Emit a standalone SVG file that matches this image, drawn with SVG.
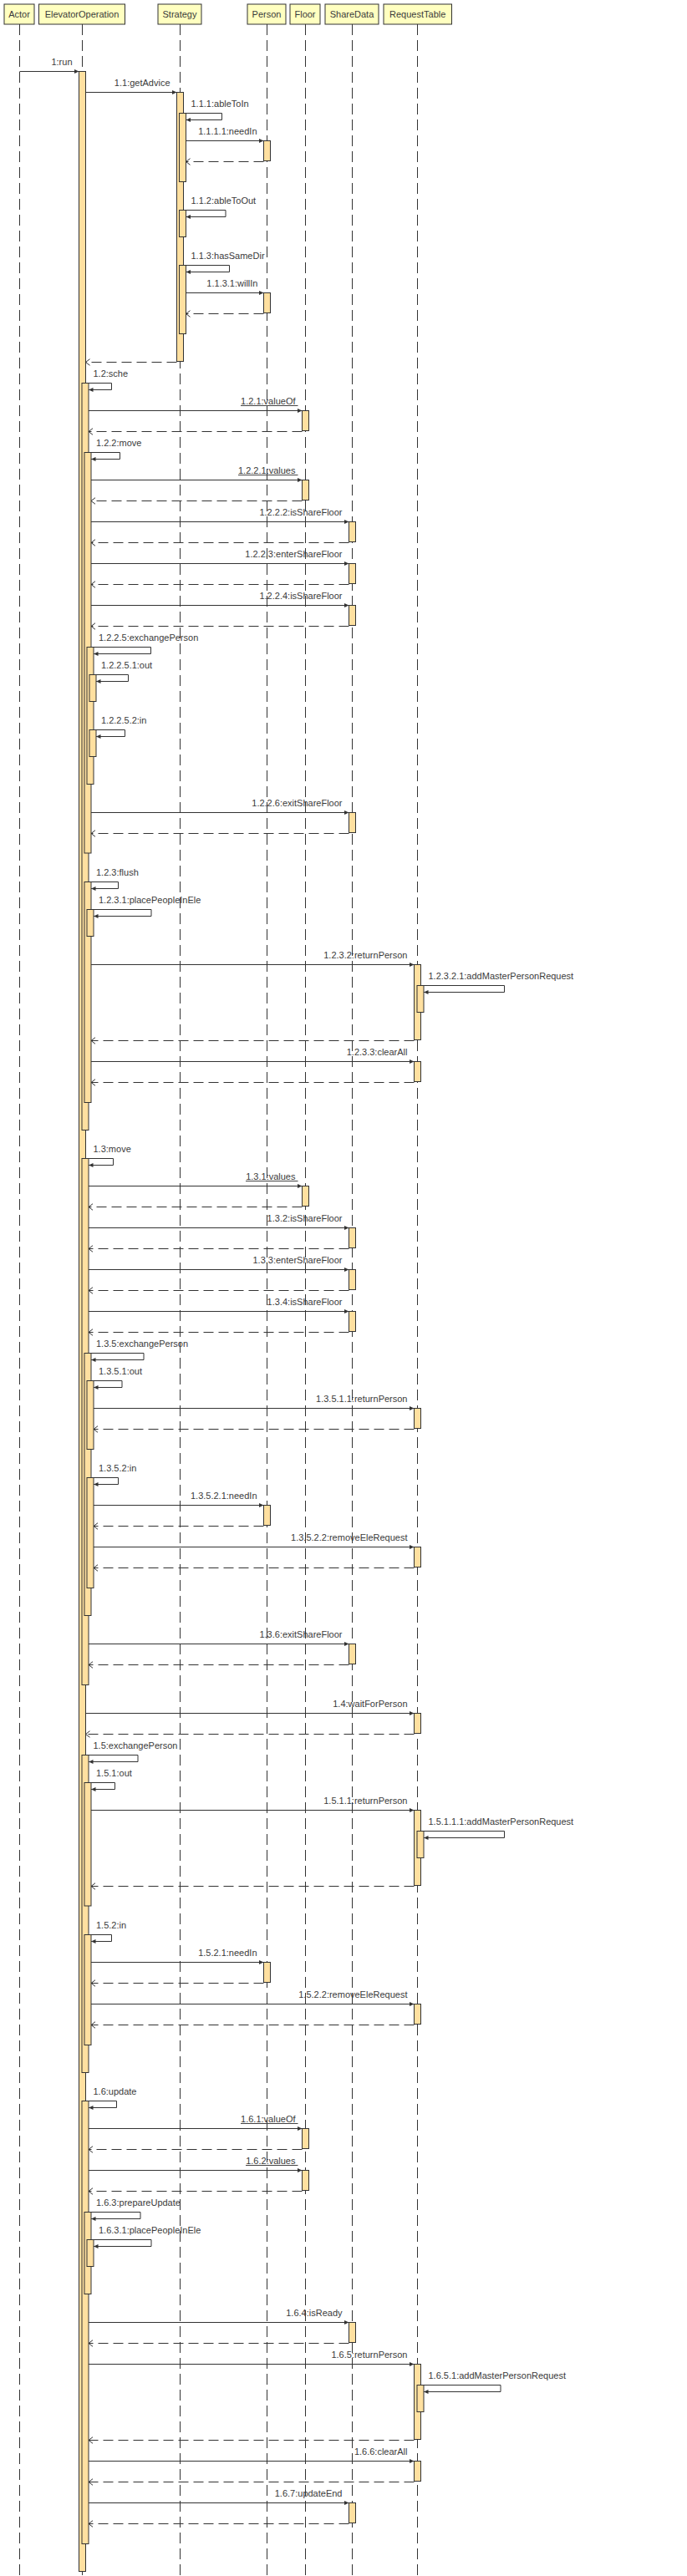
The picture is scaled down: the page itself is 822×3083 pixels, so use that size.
<svg xmlns="http://www.w3.org/2000/svg" width="822" height="3083" viewBox="0 0 822 3083">
<style>
.hdr{fill:#FFFFC0;stroke:#333;stroke-width:1}
.life{stroke:#333;stroke-width:1;stroke-dasharray:13 6;fill:none}
.act{fill:#FFE0A0;stroke:#333;stroke-width:1}
.m{stroke:#333;stroke-width:1;fill:none;marker-end:url(#ah)}
.r{stroke:#333;stroke-width:1;fill:none;stroke-dasharray:12 6;marker-end:url(#oh)}
.ul{stroke:#444;stroke-width:1}
text{font-family:"Liberation Sans",Arial,sans-serif;font-size:11px;fill:#3a3a3a}
.c{text-anchor:middle}
.e{text-anchor:end}
</style>
<defs>
<marker id="ah" markerUnits="userSpaceOnUse" markerWidth="6" markerHeight="6" viewBox="0 0 6 6" refX="5.5" refY="3" orient="auto"><path d="M0,0.5 L5.5,3 L0,5.5 Z" fill="#333" stroke="none"/></marker>
<marker id="oh" markerUnits="userSpaceOnUse" markerWidth="8" markerHeight="10" viewBox="0 0 8 10" refX="5.5" refY="5" orient="auto"><path d="M0.5,1.2 L5.5,5 L0.5,8.8" fill="none" stroke="#333" stroke-width="1" stroke-dasharray="none"/></marker>
</defs>
<rect width="822" height="3083" fill="#fff"/>

<g id="Actor">
<line class="life" x1="23.5" y1="29" x2="23.5" y2="3083"/>
<rect class="hdr" x="5" y="5" width="36" height="24"/>
<text class="c" x="23" y="21">Actor</text>
</g>

<g id="ElevatorOperation">
<line class="life" x1="98.5" y1="29" x2="98.5" y2="3083"/>
<rect class="hdr" x="46.5" y="5" width="103" height="24"/>
<text class="c" x="98" y="21">ElevatorOperation</text>
<rect class="act" x="94.5" y="85.5" width="8" height="2992"/>
<rect class="act" x="98" y="458.5" width="8" height="894"/>
<rect class="act" x="98" y="1386.5" width="8" height="630"/>
<rect class="act" x="98" y="2100.5" width="8" height="380"/>
<rect class="act" x="98" y="2514.5" width="8" height="530"/>
<rect class="act" x="101" y="541.5" width="8" height="479.5"/>
<rect class="act" x="101" y="1055.5" width="8" height="264"/>
<rect class="act" x="101" y="1619.5" width="8" height="314"/>
<rect class="act" x="101" y="2133.5" width="8" height="147.5"/>
<rect class="act" x="101" y="2315.5" width="8" height="132"/>
<rect class="act" x="101" y="2647.5" width="8" height="98"/>
<rect class="act" x="104" y="774.5" width="8" height="164"/>
<rect class="act" x="104" y="1088.5" width="8" height="32"/>
<rect class="act" x="104" y="1652.5" width="8" height="82"/>
<rect class="act" x="104" y="1768.5" width="8" height="132"/>
<rect class="act" x="104" y="2680.5" width="8" height="32"/>
<rect class="act" x="107" y="807.5" width="8" height="32"/>
<rect class="act" x="107" y="873.5" width="8" height="32"/>
</g>

<g id="Strategy">
<line class="life" x1="215.5" y1="29" x2="215.5" y2="3083"/>
<rect class="hdr" x="189" y="5" width="52" height="24"/>
<text class="c" x="215" y="21">Strategy</text>
<rect class="act" x="211.5" y="110.5" width="8" height="322"/>
<rect class="act" x="214.5" y="135.5" width="8" height="82"/>
<rect class="act" x="214.5" y="251.5" width="8" height="32"/>
<rect class="act" x="214.5" y="317.5" width="8" height="82"/>
</g>

<g id="Person">
<line class="life" x1="319.5" y1="29" x2="319.5" y2="3083"/>
<rect class="hdr" x="296" y="5" width="46" height="24"/>
<text class="c" x="319" y="21">Person</text>
<rect class="act" x="315.5" y="168.5" width="8" height="24"/>
<rect class="act" x="315.5" y="350.5" width="8" height="24"/>
<rect class="act" x="315.5" y="1801.5" width="8" height="24"/>
<rect class="act" x="315.5" y="2348.5" width="8" height="24"/>
</g>

<g id="Floor">
<line class="life" x1="365.5" y1="29" x2="365.5" y2="3083"/>
<rect class="hdr" x="347" y="5" width="36" height="24"/>
<text class="c" x="365" y="21">Floor</text>
<rect class="act" x="361.5" y="491.5" width="8" height="24"/>
<rect class="act" x="361.5" y="574.5" width="8" height="24"/>
<rect class="act" x="361.5" y="1419.5" width="8" height="24"/>
<rect class="act" x="361.5" y="2547.5" width="8" height="24"/>
<rect class="act" x="361.5" y="2597.5" width="8" height="24"/>
</g>

<g id="ShareData">
<line class="life" x1="421.5" y1="29" x2="421.5" y2="3083"/>
<rect class="hdr" x="389" y="5" width="64" height="24"/>
<text class="c" x="421" y="21">ShareData</text>
<rect class="act" x="417.5" y="624.5" width="8" height="24"/>
<rect class="act" x="417.5" y="674.5" width="8" height="24"/>
<rect class="act" x="417.5" y="724.5" width="8" height="24"/>
<rect class="act" x="417.5" y="972.5" width="8" height="24"/>
<rect class="act" x="417.5" y="1469.5" width="8" height="24"/>
<rect class="act" x="417.5" y="1519.5" width="8" height="24"/>
<rect class="act" x="417.5" y="1569.5" width="8" height="24"/>
<rect class="act" x="417.5" y="1967.5" width="8" height="24"/>
<rect class="act" x="417.5" y="2779.5" width="8" height="24"/>
<rect class="act" x="417.5" y="2995.5" width="8" height="24"/>
</g>

<g id="RequestTable">
<line class="life" x1="499.5" y1="29" x2="499.5" y2="3083"/>
<rect class="hdr" x="459" y="5" width="81.5" height="24"/>
<text class="c" x="499.7" y="21">RequestTable</text>
<rect class="act" x="495.5" y="1154.5" width="8" height="90"/>
<rect class="act" x="495.5" y="1270.5" width="8" height="24"/>
<rect class="act" x="495.5" y="1685.5" width="8" height="24"/>
<rect class="act" x="495.5" y="1851.5" width="8" height="24"/>
<rect class="act" x="495.5" y="2050.5" width="8" height="24"/>
<rect class="act" x="495.5" y="2166.5" width="8" height="90"/>
<rect class="act" x="495.5" y="2398.5" width="8" height="24"/>
<rect class="act" x="495.5" y="2829.5" width="8" height="90"/>
<rect class="act" x="495.5" y="2945.5" width="8" height="24"/>
<rect class="act" x="499" y="1179.5" width="8" height="32"/>
<rect class="act" x="499" y="2191.5" width="8" height="32"/>
<rect class="act" x="499" y="2854.5" width="8" height="32"/>
</g>

<g id="connectors">
<path class="m" d="M23.5,85.5H94.5"/><text class="e" x="86.5" y="78">1:run</text>
<path class="m" d="M102.5,110.5H211.5"/><text class="e" x="203.5" y="103">1.1:getAdvice</text>
<path class="m" d="M222.5,135.5H265.5V143.5H222.5"/><text x="228.5" y="128">1.1.1:ableToIn</text>
<path class="m" d="M222.5,168.5H315.5"/><text class="e" x="307.5" y="161">1.1.1.1:needIn</text>
<path class="r" d="M315.5,193.5H222.5"/>
<path class="m" d="M222.5,251.5H270V259.5H222.5"/><text x="228.5" y="244">1.1.2:ableToOut</text>
<path class="m" d="M222.5,317.5H274.5V325.5H222.5"/><text x="228.5" y="310">1.1.3:hasSameDir</text>
<path class="m" d="M222.5,350.5H315.5"/><text class="e" x="308.5" y="343">1.1.3.1:willIn</text>
<path class="r" d="M315.5,375.5H222.5"/>
<path class="r" d="M211.5,433.5H102.5"/>

<path class="m" d="M106,458.5H133.5V466.5H106"/><text x="111.5" y="451">1.2:sche</text>
<path class="m" d="M106,491.5H361.5"/><text class="e" x="353.5" y="484">1.2.1:valueOf</text><line class="ul" x1="288" y1="485.5" x2="356.5" y2="485.5"/>
<path class="r" d="M361.5,516.5H106"/>
<path class="m" d="M109,541.5H143.5V549.5H109"/><text x="115" y="534">1.2.2:move</text>
<path class="m" d="M109,574.5H361.5"/><text class="e" x="353.5" y="567">1.2.2.1:values</text><line class="ul" x1="285" y1="568.5" x2="356.5" y2="568.5"/>
<path class="r" d="M361.5,599.5H109"/>
<path class="m" d="M109,624.5H417.5"/><text class="e" x="409.5" y="617">1.2.2.2:isShareFloor</text>
<path class="r" d="M417.5,649.5H109"/>
<path class="m" d="M109,674.5H417.5"/><text class="e" x="409.5" y="667">1.2.2.3:enterShareFloor</text>
<path class="r" d="M417.5,699.5H109"/>
<path class="m" d="M109,724.5H417.5"/><text class="e" x="409.5" y="717">1.2.2.4:isShareFloor</text>
<path class="r" d="M417.5,749.5H109"/>
<path class="m" d="M112,774.5H180.5V782.5H112"/><text x="118" y="767">1.2.2.5:exchangePerson</text>
<path class="m" d="M115,807.5H153.5V815.5H115"/><text x="121" y="800">1.2.2.5.1:out</text>
<path class="m" d="M115,873.5H149.5V881.5H115"/><text x="121" y="866">1.2.2.5.2:in</text>
<path class="m" d="M109,972.5H417.5"/><text class="e" x="409.5" y="965">1.2.2.6:exitShareFloor</text>
<path class="r" d="M417.5,997.5H109"/>
<path class="m" d="M109,1055.5H141.5V1063.5H109"/><text x="115" y="1048">1.2.3:flush</text>
<path class="m" d="M112,1088.5H181V1096.5H112"/><text x="118" y="1081">1.2.3.1:placePeopleInEle</text>
<path class="m" d="M109,1154.5H495.5"/><text class="e" x="487.5" y="1147">1.2.3.2:returnPerson</text>
<path class="m" d="M507,1179.5H603.5V1187.5H507"/><text x="512.5" y="1172">1.2.3.2.1:addMasterPersonRequest</text>
<path class="r" d="M495.5,1245.5H109"/>
<path class="m" d="M109,1270.5H495.5"/><text class="e" x="487.5" y="1263">1.2.3.3:clearAll</text>
<path class="r" d="M495.5,1295.5H109"/>

<path class="m" d="M106,1386.5H135.5V1394.5H106"/><text x="111.5" y="1379">1.3:move</text>
<path class="m" d="M106,1419.5H361.5"/><text class="e" x="353.5" y="1412">1.3.1:values</text><line class="ul" x1="294" y1="1413.5" x2="356.5" y2="1413.5"/>
<path class="r" d="M361.5,1444.5H106"/>
<path class="m" d="M106,1469.5H417.5"/><text class="e" x="409.5" y="1462">1.3.2:isShareFloor</text>
<path class="r" d="M417.5,1494.5H106"/>
<path class="m" d="M106,1519.5H417.5"/><text class="e" x="409.5" y="1512">1.3.3:enterShareFloor</text>
<path class="r" d="M417.5,1544.5H106"/>
<path class="m" d="M106,1569.5H417.5"/><text class="e" x="409.5" y="1562">1.3.4:isShareFloor</text>
<path class="r" d="M417.5,1594.5H106"/>
<path class="m" d="M109,1619.5H172V1627.5H109"/><text x="115" y="1612">1.3.5:exchangePerson</text>
<path class="m" d="M112,1652.5H146V1660.5H112"/><text x="118" y="1645">1.3.5.1:out</text>
<path class="m" d="M112,1685.5H495.5"/><text class="e" x="487.5" y="1678">1.3.5.1.1:returnPerson</text>
<path class="r" d="M495.5,1710.5H112"/>
<path class="m" d="M112,1768.5H141.5V1776.5H112"/><text x="118" y="1761">1.3.5.2:in</text>
<path class="m" d="M112,1801.5H315.5"/><text class="e" x="307.5" y="1794">1.3.5.2.1:needIn</text>
<path class="r" d="M315.5,1826.5H112"/>
<path class="m" d="M112,1851.5H495.5"/><text class="e" x="487.5" y="1844">1.3.5.2.2:removeEleRequest</text>
<path class="r" d="M495.5,1876.5H112"/>
<path class="m" d="M106,1967.5H417.5"/><text class="e" x="409.5" y="1960">1.3.6:exitShareFloor</text>
<path class="r" d="M417.5,1992.5H106"/>

<path class="m" d="M102.5,2050.5H495.5"/><text class="e" x="487.5" y="2043">1.4:waitForPerson</text>
<path class="r" d="M495.5,2075.5H102.5"/>

<path class="m" d="M106,2100.5H165V2108.5H106"/><text x="111.5" y="2093">1.5:exchangePerson</text>
<path class="m" d="M109,2133.5H137.5V2141.5H109"/><text x="115" y="2126">1.5.1:out</text>
<path class="m" d="M109,2166.5H495.5"/><text class="e" x="487.5" y="2159">1.5.1.1:returnPerson</text>
<path class="m" d="M507,2191.5H603.5V2199.5H507"/><text x="512.5" y="2184">1.5.1.1.1:addMasterPersonRequest</text>
<path class="r" d="M495.5,2257.5H109"/>
<path class="m" d="M109,2315.5H133.5V2323.5H109"/><text x="115" y="2308">1.5.2:in</text>
<path class="m" d="M109,2348.5H315.5"/><text class="e" x="307.5" y="2341">1.5.2.1:needIn</text>
<path class="r" d="M315.5,2373.5H109"/>
<path class="m" d="M109,2398.5H495.5"/><text class="e" x="487.5" y="2391">1.5.2.2:removeEleRequest</text>
<path class="r" d="M495.5,2423.5H109"/>

<path class="m" d="M106,2514.5H139.5V2522.5H106"/><text x="111.5" y="2507">1.6:update</text>
<path class="m" d="M106,2547.5H361.5"/><text class="e" x="353.5" y="2540">1.6.1:valueOf</text><line class="ul" x1="288" y1="2541.5" x2="356.5" y2="2541.5"/>
<path class="r" d="M361.5,2572.5H106"/>
<path class="m" d="M106,2597.5H361.5"/><text class="e" x="353.5" y="2590">1.6.2:values</text><line class="ul" x1="294" y1="2591.5" x2="356.5" y2="2591.5"/>
<path class="r" d="M361.5,2622.5H106"/>
<path class="m" d="M109,2647.5H168V2655.5H109"/><text x="115" y="2640">1.6.3:prepareUpdate</text>
<path class="m" d="M112,2680.5H181V2688.5H112"/><text x="118" y="2673">1.6.3.1:placePeopleInEle</text>
<path class="m" d="M106,2779.5H417.5"/><text class="e" x="409.5" y="2772">1.6.4:isReady</text>
<path class="r" d="M417.5,2804.5H106"/>
<path class="m" d="M106,2829.5H495.5"/><text class="e" x="487.5" y="2822">1.6.5:returnPerson</text>
<path class="m" d="M507,2854.5H599V2862.5H507"/><text x="512.5" y="2847">1.6.5.1:addMasterPersonRequest</text>
<path class="r" d="M495.5,2920.5H106"/>
<path class="m" d="M106,2945.5H495.5"/><text class="e" x="487.5" y="2938">1.6.6:clearAll</text>
<path class="r" d="M495.5,2970.5H106"/>
<path class="m" d="M106,2995.5H417.5"/><text class="e" x="409.5" y="2988">1.6.7:updateEnd</text>
<path class="r" d="M417.5,3020.5H106"/>
</g>
</svg>
